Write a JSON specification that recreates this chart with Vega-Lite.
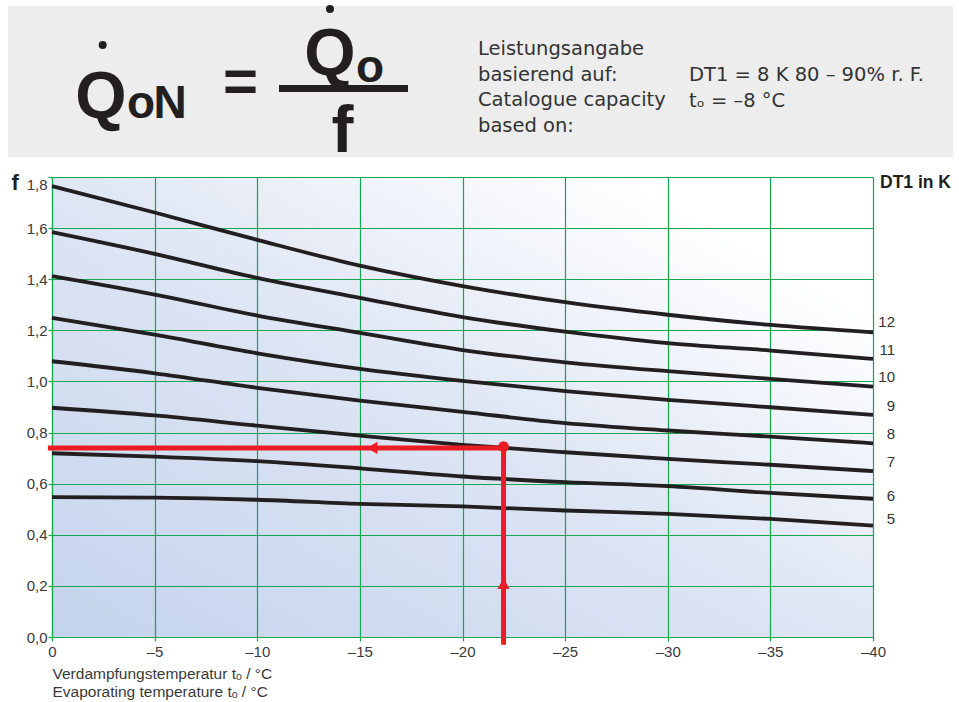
{
  "$schema": "https://vega.github.io/schema/vega-lite/v6.json",
  "width": 821,
  "height": 460,
  "autosize": "none",
  "padding": {"left": 52, "top": 177, "right": 86, "bottom": 65},
  "background": "white",
  "config": {"font": "Liberation Sans"},
  "view": {
    "stroke": null,
    "fill": {
      "gradient": "linear", "x1": 0, "y1": 1, "x2": 1, "y2": 0,
      "stops": [
        {"offset": 0, "color": "#c4d3ed"},
        {"offset": 0.5, "color": "#dfe6f4"},
        {"offset": 0.85, "color": "#ffffff"},
        {"offset": 1, "color": "#ffffff"}
      ]
    }
  },
  "datasets": {
    "curves": [
      {"dt": 12, "t": 0, "f": 1.764}, {"dt": 12, "t": -5, "f": 1.661}, {"dt": 12, "t": -10, "f": 1.554}, {"dt": 12, "t": -15, "f": 1.453}, {"dt": 12, "t": -20, "f": 1.373}, {"dt": 12, "t": -25, "f": 1.310}, {"dt": 12, "t": -30, "f": 1.261}, {"dt": 12, "t": -35, "f": 1.221}, {"dt": 12, "t": -40, "f": 1.192},
      {"dt": 11, "t": 0, "f": 1.584}, {"dt": 11, "t": -5, "f": 1.499}, {"dt": 11, "t": -10, "f": 1.405}, {"dt": 11, "t": -15, "f": 1.327}, {"dt": 11, "t": -20, "f": 1.252}, {"dt": 11, "t": -25, "f": 1.195}, {"dt": 11, "t": -30, "f": 1.150}, {"dt": 11, "t": -35, "f": 1.121}, {"dt": 11, "t": -40, "f": 1.088},
      {"dt": 10, "t": 0, "f": 1.412}, {"dt": 10, "t": -5, "f": 1.340}, {"dt": 10, "t": -10, "f": 1.258}, {"dt": 10, "t": -15, "f": 1.190}, {"dt": 10, "t": -20, "f": 1.123}, {"dt": 10, "t": -25, "f": 1.075}, {"dt": 10, "t": -30, "f": 1.040}, {"dt": 10, "t": -35, "f": 1.010}, {"dt": 10, "t": -40, "f": 0.980},
      {"dt": 9, "t": 0, "f": 1.249}, {"dt": 9, "t": -5, "f": 1.183}, {"dt": 9, "t": -10, "f": 1.110}, {"dt": 9, "t": -15, "f": 1.049}, {"dt": 9, "t": -20, "f": 1.002}, {"dt": 9, "t": -25, "f": 0.962}, {"dt": 9, "t": -30, "f": 0.928}, {"dt": 9, "t": -35, "f": 0.899}, {"dt": 9, "t": -40, "f": 0.869},
      {"dt": 8, "t": 0, "f": 1.079}, {"dt": 8, "t": -5, "f": 1.032}, {"dt": 8, "t": -10, "f": 0.975}, {"dt": 8, "t": -15, "f": 0.925}, {"dt": 8, "t": -20, "f": 0.881}, {"dt": 8, "t": -25, "f": 0.837}, {"dt": 8, "t": -30, "f": 0.808}, {"dt": 8, "t": -35, "f": 0.784}, {"dt": 8, "t": -40, "f": 0.758},
      {"dt": 7, "t": 0, "f": 0.897}, {"dt": 7, "t": -5, "f": 0.867}, {"dt": 7, "t": -10, "f": 0.827}, {"dt": 7, "t": -15, "f": 0.788}, {"dt": 7, "t": -20, "f": 0.752}, {"dt": 7, "t": -25, "f": 0.723}, {"dt": 7, "t": -30, "f": 0.697}, {"dt": 7, "t": -35, "f": 0.674}, {"dt": 7, "t": -40, "f": 0.649},
      {"dt": 6, "t": 0, "f": 0.719}, {"dt": 6, "t": -5, "f": 0.706}, {"dt": 6, "t": -10, "f": 0.688}, {"dt": 6, "t": -15, "f": 0.660}, {"dt": 6, "t": -20, "f": 0.628}, {"dt": 6, "t": -25, "f": 0.606}, {"dt": 6, "t": -30, "f": 0.590}, {"dt": 6, "t": -35, "f": 0.564}, {"dt": 6, "t": -40, "f": 0.541},
      {"dt": 5, "t": 0, "f": 0.547}, {"dt": 5, "t": -5, "f": 0.545}, {"dt": 5, "t": -10, "f": 0.537}, {"dt": 5, "t": -15, "f": 0.521}, {"dt": 5, "t": -20, "f": 0.511}, {"dt": 5, "t": -25, "f": 0.495}, {"dt": 5, "t": -30, "f": 0.482}, {"dt": 5, "t": -35, "f": 0.462}, {"dt": 5, "t": -40, "f": 0.436}
    ],
    "red": [
      {"t": 0.2, "t2": -22, "f": 0.74, "f2": 0.74},
      {"t": -22, "t2": -22, "f": -0.03, "f2": 0.74}
    ],
    "dot": [{"t": -22, "f": 0.745}],
    "arrows": [
      {"t": -15.6, "f": 0.74, "dir": "left"},
      {"t": -22, "f": 0.209, "dir": "up"}
    ],
    "labels": [
      {"dt": "12", "f": 1.233}, {"dt": "11", "f": 1.125}, {"dt": "10", "f": 1.016}, {"dt": "9", "f": 0.905},
      {"dt": "8", "f": 0.793}, {"dt": "7", "f": 0.683}, {"dt": "6", "f": 0.553}, {"dt": "5", "f": 0.461}
    ]
  },
  "resolve": {"scale": {"x": "independent", "y": "independent"}, "axis": {"x": "independent", "y": "independent"}},
  "layer": [
    {
      "layer": [
        {
          "data": {"name": "curves"},
          "mark": {"type": "line", "color": "#231f20", "strokeWidth": 3.8, "interpolate": "monotone"},
          "encoding": {
            "x": {
              "field": "t", "type": "quantitative",
              "scale": {"domain": [-40, 0], "reverse": true, "nice": false, "zero": false},
              "axis": {
                "values": [0, -5, -10, -15, -20, -25, -30, -35, -40],
                "labelExpr": "datum.value == 0 ? '0' : '–' + abs(datum.value)",
                "grid": true, "gridColor": "#14a651", "gridWidth": 1.2,
                "domainColor": "#14a651", "domainWidth": 1.2,
                "tickColor": "#14a651", "tickSize": 4, "tickWidth": 1.2,
                "labelFontSize": 15, "labelColor": "#3a3a3a", "labelPadding": 3, "labelFlush": false,
                "title": ["Verdampfungstemperatur tₒ / °C", "Evaporating temperature tₒ / °C"],
                "titleAnchor": "start", "titleAlign": "left", "titleX": 0, "titleY": 29,
                "titleBaseline": "top", "titleLineHeight": 18,
                "titleFontSize": 15.5, "titleFontWeight": "normal", "titleColor": "#3a3a3a"
              }
            },
            "y": {
              "field": "f", "type": "quantitative",
              "scale": {"domain": [0, 1.8], "nice": false, "zero": false},
              "axis": {
                "values": [0, 0.2, 0.4, 0.6, 0.8, 1.0, 1.2, 1.4, 1.6, 1.8],
                "labelExpr": "replace(format(datum.value, '.1f'), '.', ',')",
                "grid": true, "gridColor": "#14a651", "gridWidth": 1.2,
                "domainColor": "#14a651", "domainWidth": 1.2,
                "tickColor": "#14a651", "tickSize": 4, "tickWidth": 1.2,
                "labelFontSize": 15, "labelColor": "#3a3a3a", "labelPadding": 1,
                "labelBaseline": {"condition": {"test": "datum.value >= 1.79", "value": "top"}, "value": "middle"},
                "title": "f", "titleAngle": 0, "titleX": -41, "titleY": 12,
                "titleAlign": "left", "titleBaseline": "alphabetic",
                "titleFontSize": 22, "titleFontWeight": "bold", "titleColor": "#231f20"
              }
            },
            "detail": {"field": "dt", "type": "nominal"}
          }
        },
        {
          "data": {"name": "red"},
          "mark": {"type": "rule", "color": "#ed1c24", "strokeWidth": 5},
          "encoding": {
            "x": {"field": "t", "type": "quantitative"},
            "x2": {"field": "t2"},
            "y": {"field": "f", "type": "quantitative"},
            "y2": {"field": "f2"}
          }
        },
        {
          "data": {"name": "dot"},
          "mark": {"type": "point", "shape": "circle", "filled": true, "opacity": 1, "color": "#ed1c24", "size": 115},
          "encoding": {
            "x": {"field": "t", "type": "quantitative"},
            "y": {"field": "f", "type": "quantitative"}
          }
        },
        {
          "data": {"name": "arrows"},
          "mark": {"type": "point", "filled": true, "opacity": 1, "color": "#ed1c24", "size": 150},
          "encoding": {
            "x": {"field": "t", "type": "quantitative"},
            "y": {"field": "f", "type": "quantitative"},
            "shape": {"field": "dir", "type": "nominal", "scale": {"domain": ["left", "up"], "range": ["triangle-left", "triangle-up"]}, "legend": null}
          }
        },
        {
          "data": {"name": "labels"},
          "mark": {"type": "text", "align": "right", "baseline": "middle", "dx": 22, "fontSize": 15, "color": "#333333"},
          "encoding": {
            "x": {"datum": -40, "type": "quantitative"},
            "y": {"field": "f", "type": "quantitative"},
            "text": {"field": "dt"}
          }
        },
        {
          "data": {"values": [{}]},
          "mark": {"type": "text", "align": "left", "baseline": "middle", "dx": 7, "dy": 6, "fontSize": 17.5, "fontWeight": "bold", "color": "#231f20"},
          "encoding": {
            "x": {"datum": -40, "type": "quantitative"},
            "y": {"datum": 1.8, "type": "quantitative"},
            "text": {"value": "DT1 in K"}
          }
        }
      ]
    },
    {
      "layer": [
        {
          "data": {"values": [{}]},
          "mark": {"type": "rect", "color": "#ecedec"},
          "encoding": {
            "x": {"datum": 0, "type": "quantitative", "scale": {"domain": [0, 945], "range": [-44, 901], "nice": false, "zero": false}, "axis": null},
            "x2": {"datum": 945},
            "y": {"datum": 0, "type": "quantitative", "scale": {"domain": [0, 151], "range": [-171, -20], "nice": false, "zero": false}, "axis": null},
            "y2": {"datum": 151}
          }
        },
        {
          "data": {"values": [{}]},
          "mark": {"type": "text", "align": "center", "baseline": "alphabetic", "fontSize": 66, "fontWeight": "bold", "color": "#231f20"},
          "encoding": {"x": {"datum": 93, "type": "quantitative"}, "y": {"datum": 112, "type": "quantitative"}, "text": {"value": "Q"}}
        },
        {
          "data": {"values": [{}]},
          "mark": {"type": "text", "align": "center", "baseline": "alphabetic", "fontSize": 46, "fontWeight": "bold", "color": "#231f20"},
          "encoding": {"x": {"datum": 133, "type": "quantitative"}, "y": {"datum": 112, "type": "quantitative"}, "text": {"value": "o"}}
        },
        {
          "data": {"values": [{}]},
          "mark": {"type": "text", "align": "center", "baseline": "alphabetic", "fontSize": 46, "fontWeight": "bold", "color": "#231f20"},
          "encoding": {"x": {"datum": 162, "type": "quantitative"}, "y": {"datum": 112, "type": "quantitative"}, "text": {"value": "N"}}
        },
        {
          "data": {"values": [{}]},
          "mark": {"type": "point", "shape": "circle", "filled": true, "opacity": 1, "size": 64, "color": "#231f20"},
          "encoding": {"x": {"datum": 94.7, "type": "quantitative"}, "y": {"datum": 39, "type": "quantitative"}}
        },
        {
          "data": {"values": [{}]},
          "mark": {"type": "text", "align": "center", "baseline": "alphabetic", "fontSize": 60, "fontWeight": "bold", "color": "#231f20"},
          "encoding": {"x": {"datum": 232.5, "type": "quantitative"}, "y": {"datum": 95, "type": "quantitative"}, "text": {"value": "="}}
        },
        {
          "data": {"values": [{}]},
          "mark": {"type": "rule", "strokeWidth": 7, "color": "#231f20"},
          "encoding": {"x": {"datum": 271, "type": "quantitative"}, "x2": {"datum": 400}, "y": {"datum": 82.5, "type": "quantitative"}}
        },
        {
          "data": {"values": [{}]},
          "mark": {"type": "text", "align": "center", "baseline": "alphabetic", "fontSize": 66, "fontWeight": "bold", "color": "#231f20"},
          "encoding": {"x": {"datum": 322, "type": "quantitative"}, "y": {"datum": 69, "type": "quantitative"}, "text": {"value": "Q"}}
        },
        {
          "data": {"values": [{}]},
          "mark": {"type": "text", "align": "center", "baseline": "alphabetic", "fontSize": 46, "fontWeight": "bold", "color": "#231f20"},
          "encoding": {"x": {"datum": 362, "type": "quantitative"}, "y": {"datum": 76, "type": "quantitative"}, "text": {"value": "o"}}
        },
        {
          "data": {"values": [{}]},
          "mark": {"type": "point", "shape": "circle", "filled": true, "opacity": 1, "size": 64, "color": "#231f20"},
          "encoding": {"x": {"datum": 322, "type": "quantitative"}, "y": {"datum": 3, "type": "quantitative"}}
        },
        {
          "data": {"values": [{}]},
          "mark": {"type": "text", "align": "center", "baseline": "alphabetic", "fontSize": 66, "fontWeight": "bold", "color": "#231f20"},
          "encoding": {"x": {"datum": 334.5, "type": "quantitative"}, "y": {"datum": 146, "type": "quantitative"}, "text": {"value": "f"}}
        },
        {
          "data": {"values": [{}]},
          "mark": {"type": "text", "align": "left", "baseline": "alphabetic", "font": "DejaVu Sans", "fontSize": 19.5, "lineHeight": 25.5, "color": "#333333"},
          "encoding": {"x": {"datum": 470, "type": "quantitative"}, "y": {"datum": 49, "type": "quantitative"}, "text": {"value": ["Leistungsangabe", "basierend auf:", "Catalogue capacity", "based on:"]}}
        },
        {
          "data": {"values": [{}]},
          "mark": {"type": "text", "align": "left", "baseline": "alphabetic", "font": "DejaVu Sans", "fontSize": 19.5, "lineHeight": 25.5, "color": "#333333"},
          "encoding": {"x": {"datum": 681, "type": "quantitative"}, "y": {"datum": 75, "type": "quantitative"}, "text": {"value": ["DT1 = 8 K 80 – 90% r. F.", "tₒ = –8 °C"]}}
        }
      ]
    }
  ]
}
